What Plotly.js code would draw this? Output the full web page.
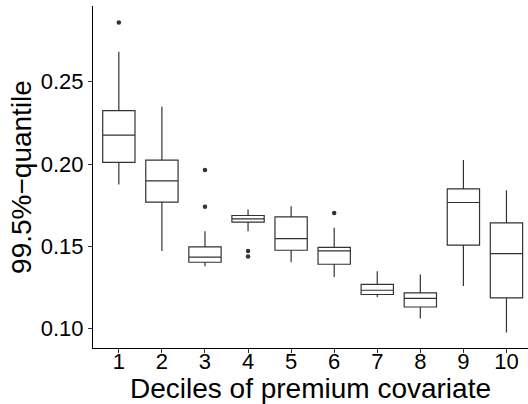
<!DOCTYPE html>
<html>
<head>
<meta charset="utf-8">
<script src="https://cdn.plot.ly/plotly-3.0.1.min.js"></script>
<style>html,body{margin:0;padding:0;background:#fff;}#chart{width:528px;height:404px;}</style>
</head>
<body>
<div id="chart"></div>
<script>
const deciles = [1, 2, 3, 4, 5, 6, 7, 8, 9, 10];
const lowerWhisker = [0.1876, 0.1472, 0.1379, 0.1592, 0.1403, 0.1314, 0.1192, 0.1061, 0.1259, 0.0976];
const q1Values     = [0.2010, 0.1768, 0.1403, 0.1647, 0.1476, 0.1391, 0.1207, 0.1131, 0.1507, 0.1186];
const medianValues = [0.2176, 0.1898, 0.1434, 0.1667, 0.1547, 0.1472, 0.1233, 0.1183, 0.1766, 0.1456];
const q3Values     = [0.2324, 0.2024, 0.1496, 0.1687, 0.1679, 0.1493, 0.1269, 0.1217, 0.1849, 0.1642];
const upperWhisker = [0.2682, 0.2348, 0.1592, 0.1724, 0.1744, 0.1612, 0.1349, 0.1328, 0.2024, 0.1841];
const outlierDecile = [1, 3, 3, 4, 4, 6];
const outlierValue  = [0.2859, 0.1963, 0.1740, 0.1472, 0.1438, 0.1703];
const yTicks = [0.10, 0.15, 0.20, 0.25];

const boxTrace = {
  type: 'box',
  x: deciles,
  q1: q1Values,
  median: medianValues,
  q3: q3Values,
  lowerfence: lowerWhisker,
  upperfence: upperWhisker,
  width: 0.75,
  whiskerwidth: 0,
  fillcolor: '#ffffff',
  line: {color: '#333333', width: 1.2},
  boxpoints: false,
  hoverinfo: 'y',
  showlegend: false
};
const outlierTrace = {
  type: 'scatter',
  mode: 'markers',
  x: outlierDecile,
  y: outlierValue,
  marker: {color: '#333333', size: 4.5},
  showlegend: false
};

const layout = {
  width: 528, height: 404,
  paper_bgcolor: '#ffffff', plot_bgcolor: '#ffffff',
  margin: {l: 93, r: 0, t: 6, b: 56, pad: 0},
  font: {family: 'Liberation Sans, Arial, sans-serif', color: '#000000'},
  xaxis: {
    range: [0.4, 10.5],
    tickvals: deciles,
    ticktext: deciles.map(String),
    showgrid: false, zeroline: false,
    showline: true, linecolor: '#000000', linewidth: 1,
    ticks: 'outside', ticklen: 4, tickcolor: '#333333', tickwidth: 1,
    tickfont: {size: 22, color: '#000000'},
    ticklabelstandoff: -10,
    title: {text: 'Deciles of premium covariate', font: {size: 28, color: '#000000'}, standoff: 0},
    automargin: false
  },
  yaxis: {
    range: [0.0882, 0.2960],
    tickvals: yTicks,
    tickformat: '.2f',
    showgrid: false, zeroline: false,
    showline: true, linecolor: '#000000', linewidth: 1,
    ticks: 'outside', ticklen: 4, tickcolor: '#333333', tickwidth: 1,
    tickfont: {size: 22, color: '#000000'},
    title: {text: '99.5%\u2212quantile', font: {size: 28, color: '#000000'}, standoff: 0},
    automargin: false
  }
};

Plotly.newPlot('chart', [boxTrace, outlierTrace], layout, {displayModeBar: false, staticPlot: true});
</script>
</body>
</html>
